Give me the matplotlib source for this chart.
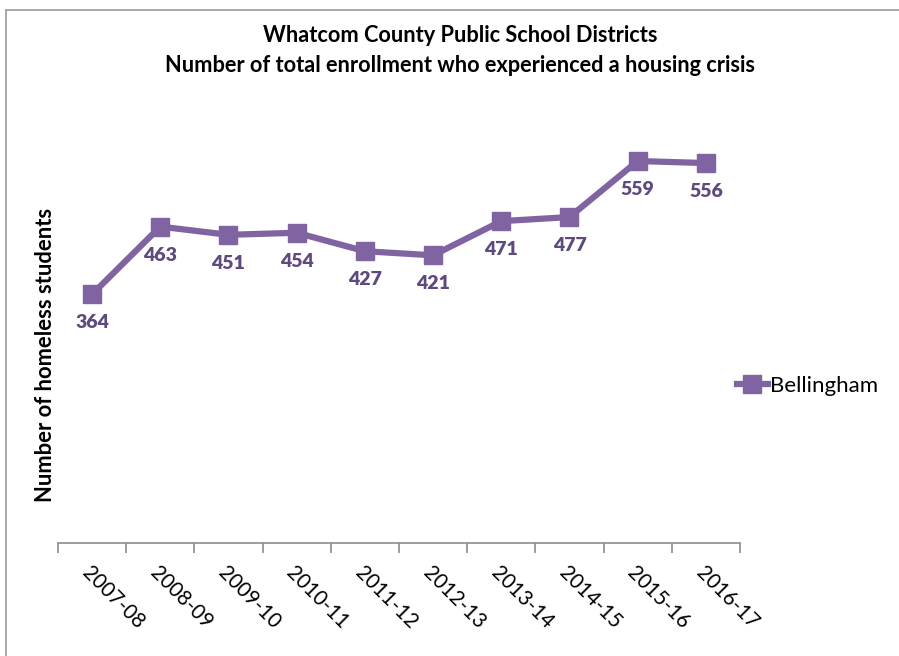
import matplotlib
matplotlib.use("Agg")
import matplotlib.pyplot as plt
from matplotlib.patches import Rectangle
import numpy as np

years = ["2007-08", "2008-09", "2009-10", "2010-11", "2011-12",
         "2012-13", "2013-14", "2014-15", "2015-16", "2016-17"]
bellingham = [364, 463, 451, 454, 427, 421, 471, 477, 559, 556]

plt.rcParams['font.family'] = ['Lato', 'DejaVu Sans']

fig = plt.figure(figsize=(8.99, 6.56), dpi=100)
ax = fig.add_axes([58/899, 1-543/656, (740-58)/899, (543-133)/656])

x = np.arange(len(years))
line_color = "#8064A2"
ax.plot(x, bellingham, color=line_color, lw=4.5, marker='s', markersize=13,
        label="Bellingham", solid_joinstyle='miter')
for xi, v in zip(x, bellingham):
    ax.annotate(str(v), (xi, v), xytext=(0, -20.5), textcoords='offset points',
                ha='center', va='center', fontsize=14, fontweight='heavy', color="#5F4A7E")

ax.set_xlim(-0.5, len(years) - 0.5)
ax.set_ylim(0, 600)
for s in ['top', 'right', 'left']:
    ax.spines[s].set_visible(False)
ax.spines['bottom'].set_color('#8c8c8c')
ax.spines['bottom'].set_linewidth(1.2)
ax.set_yticks([])
ax.set_xticks(x)
ax.set_xticklabels(years, rotation=-45, ha='left', va='top', rotation_mode='anchor',
                   fontsize=14.8)
ax.tick_params(axis='x', which='major', length=0, pad=14)
ax.set_xticks(np.arange(-0.5, len(years)), minor=True)
ax.tick_params(axis='x', which='minor', length=7, color='#8c8c8c', width=1.2)

fig.text(46/899, 1-355/656, "Number of homeless students", rotation=90,
         ha='center', va='center', fontsize=15.8, fontweight='bold')
fig.text(460/899, 1-36/656, "Whatcom County Public School Districts",
         ha='center', va='center', fontsize=15.7, fontweight='bold')
fig.text(460/899, 1-65/656, "Number of total enrollment who experienced a housing crisis",
         ha='center', va='center', fontsize=15.7, fontweight='bold')

ax.legend(loc='center left', bbox_to_anchor=(728/899, 1-386/656),
          bbox_transform=fig.transFigure, frameon=False, fontsize=16,
          handlelength=1.4, handletextpad=0.1, borderaxespad=0)

fig.patches.append(Rectangle((6/899, -0.1), 1.2, 1.1 - 10/656,
                             transform=fig.transFigure, fill=False,
                             edgecolor='#9a9a9a', lw=1.2))

fig.savefig("out.png", dpi=100)
